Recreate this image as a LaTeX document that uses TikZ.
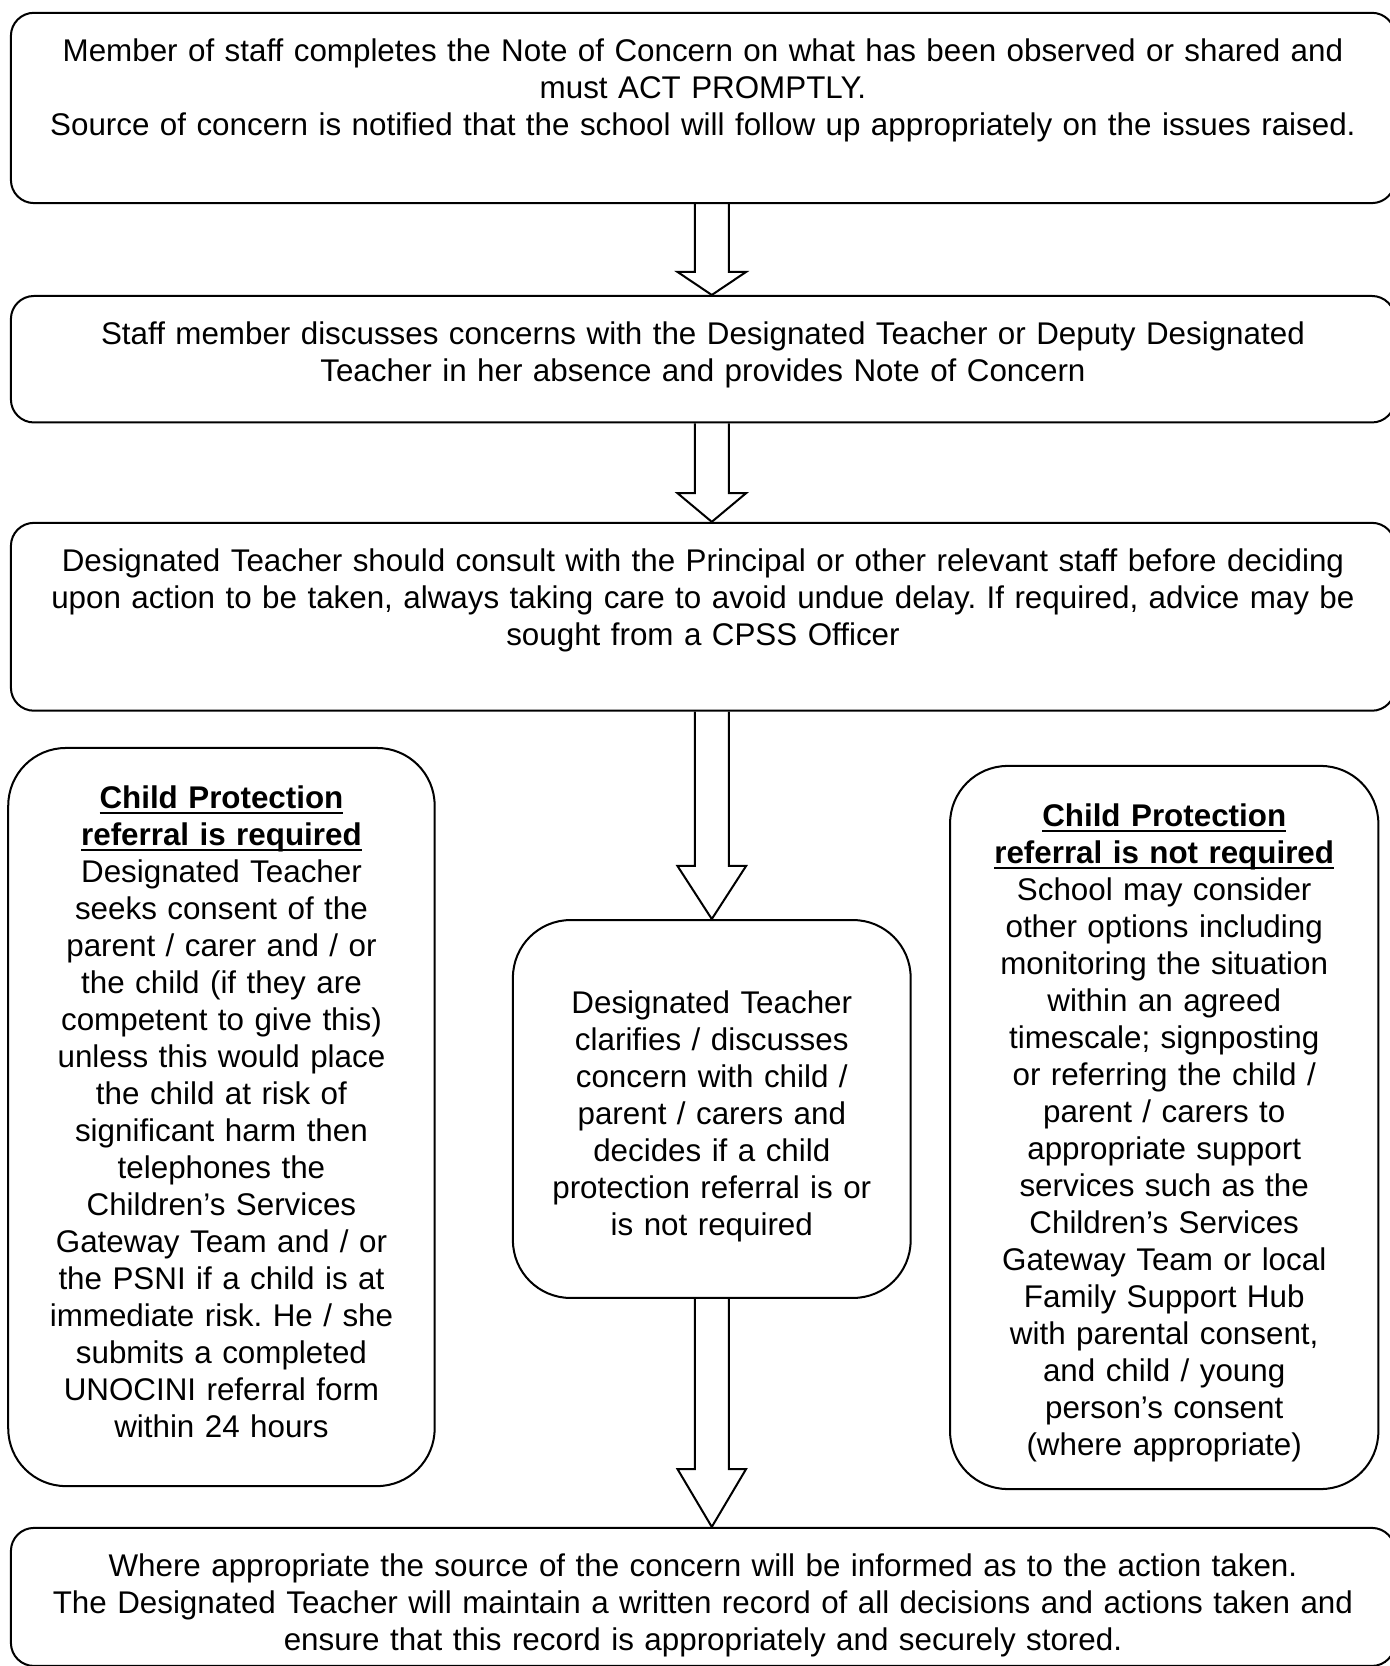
\documentclass[tikz,border=0pt]{standalone}
\usepackage{fontspec}
\setmainfont{Liberation Sans}
\usetikzlibrary{positioning}
\usetikzlibrary{calc}
\frenchspacing

\newcommand{\tpad}[1]{\rule{0pt}{#1}}
\newcommand{\bpad}[1]{\rule[-#1]{0pt}{0pt}}
\newcommand{\ulhead}[1]{\leavevmode\setbox0\hbox{\textbf{#1}}\rlap{\rule[-2.3pt]{\wd0}{0.9pt}}\box0}
\newcommand{\blockarrow}[3]{%
  \draw [blockline] let \p1=(#1.south), \p2=(#2.north), \p3=(clarify.center) in
    (\x3-6.35pt,\y1) -- (\x3-6.35pt,\y2+#3) -- (\x3-12.8pt,\y2+#3) -- (\x3,\y2)
    -- (\x3+12.8pt,\y2+#3) -- (\x3+6.35pt,\y2+#3) -- (\x3+6.35pt,\y1);}

\tikzset{
  widebox/.style={draw, line width=0.75pt, rounded corners=8.6pt, text width=516.4pt,
    inner xsep=0pt, inner ysep=0pt, align=center},
  sidebox/.style={draw, line width=0.75pt, rounded corners=21.5pt,
    inner xsep=0pt, inner ysep=0pt, align=center},
  blockline/.style={line width=0.75pt, line join=miter},
}

\begin{document}
\begin{tikzpicture}[font=\fontsize{11.7}{13.8}\selectfont, node distance=0]
  \useasboundingbox (0,0) rectangle (518.6pt,-621.6pt);
  % Place nodes
  \node [widebox, anchor=north west] (note) at (3.7pt,-4.4pt)
    {\tpad{18.3pt}Member of staff completes the Note of Concern on what has been observed or shared and\\
     must ACT PROMPTLY.\\
     Source of concern is notified that the school will follow up appropriately on the issues raised.\bpad{25.1pt}};
  \node [widebox, below=33.9pt of note] (discuss)
    {\tpad{18.2pt}Staff member discusses concerns with the Designated Teacher or Deputy Designated\\
     Teacher in her absence and provides Note of Concern\bpad{15.2pt}};
  \node [widebox, below=36.7pt of discuss] (consult)
    {\tpad{18.2pt}Designated Teacher should consult with the Principal or other relevant staff before deciding\\
     upon action to be taken, always taking care to avoid undue delay. If required, advice may be\\
     sought from a CPSS Officer\bpad{24.3pt}};

  \node [sidebox, text width=159.1pt, anchor=north west] (required) at (2.7pt,-278.7pt)
    {\tpad{22.5pt}\ulhead{Child Protection}\\
     \ulhead{referral is required}\\
     Designated Teacher\\
     seeks consent of the\\
     parent / carer and / or\\
     the child (if they are\\
     competent to give this)\\
     unless this would place\\
     the child at risk of\\
     significant harm then\\
     telephones the\\
     Children’s Services\\
     Gateway Team and / or\\
     the PSNI if a child is at\\
     immediate risk. He / she\\
     submits a completed\\
     UNOCINI referral form\\
     within 24 hours\bpad{18.3pt}};
  \node [sidebox, text width=148.4pt, anchor=north west] (clarify) at (191.0pt,-342.9pt)
    {\tpad{35.0pt}Designated Teacher\\
     clarifies / discusses\\
     concern with child /\\
     parent / carers and\\
     decides if a child\\
     protection referral is or\\
     is not required\bpad{23.2pt}};
  \node [sidebox, text width=159.8pt, anchor=north west] (notrequired) at (354.1pt,-285.4pt)
    {\tpad{22.5pt}\ulhead{Child Protection}\\
     \ulhead{referral is not required}\\
     School may consider\\
     other options including\\
     monitoring the situation\\
     within an agreed\\
     timescale; signposting\\
     or referring the child /\\
     parent / carers to\\
     appropriate support\\
     services such as the\\
     Children’s Services\\
     Gateway Team or local\\
     Family Support Hub\\
     with parental consent,\\
     and child / young\\
     person’s consent\\
     (where appropriate)\bpad{12.7pt}};

  \node [widebox, anchor=north west] (outcome) at (3.7pt,-569.7pt)
    {\tpad{18.2pt}Where appropriate the source of the concern will be informed as to the action taken.\\
     The Designated Teacher will maintain a written record of all decisions and actions taken and\\
     ensure that this record is appropriately and securely stored.\bpad{5.7pt}};

  % Block arrows
  \blockarrow{note}{discuss}{8.6pt}
  \blockarrow{discuss}{consult}{10.7pt}
  \blockarrow{consult}{clarify}{19.8pt}
  \blockarrow{clarify}{outcome}{21.6pt}
\end{tikzpicture}
\end{document}
